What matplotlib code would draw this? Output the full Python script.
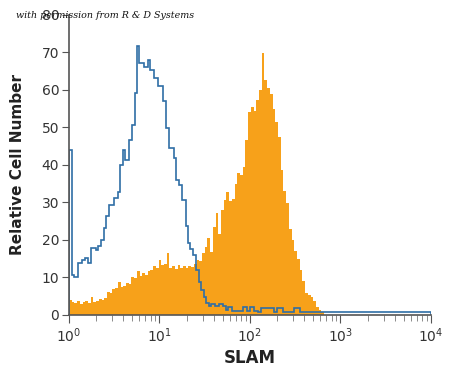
import numpy as np
import matplotlib
matplotlib.use('Agg')
import matplotlib.pyplot as plt

# isotype control (blue outline) - step edges in log10 units and heights
blue_edges_log = [0.0, 0.030, 0.059, 0.103, 0.140, 0.178, 0.206, 0.244, 0.299,
                  0.324, 0.354, 0.383, 0.409, 0.446, 0.494, 0.541, 0.568, 0.594,
                  0.622, 0.659, 0.696, 0.727, 0.752, 0.778, 0.830, 0.877, 0.899,
                  0.942, 0.983, 0.989, 1.044, 1.077, 1.110, 1.157, 1.182, 1.219,
                  1.246, 1.293, 1.320, 1.342, 1.367, 1.404, 1.441, 1.459, 1.489,
                  1.519, 1.547, 1.573, 1.610, 1.661, 1.705, 1.740, 1.757, 1.757,
                  1.801, 1.923, 1.965, 2.003, 2.039, 2.094, 2.124, 2.265, 2.302,
                  2.365, 2.489, 2.552, 2.585, 4.0]
blue_counts = [44, 10.7, 10.0, 13.9, 14.7, 15.1, 13.9, 17.8, 17.3,
               18.4, 20.0, 23.1, 26.4, 29.3, 31.1, 32.9, 40.0, 44.0,
               41.3, 46.7, 50.7, 59.1, 71.8, 67.1, 66.2, 68.0, 65.3,
               63.1, 62.2, 61.0, 57.0, 49.8, 44.4, 41.8, 36.0, 34.7,
               30.7, 23.6, 19.1, 17.5, 16.0, 12.0, 8.9, 6.7, 4.9,
               3.1, 2.4, 3.0, 2.4, 3.0, 2.4, 1.3, 2.0, 2.0,
               1.1, 2.0, 1.1, 2.0, 1.0, 0.8, 1.8, 0.8, 1.8,
               0.8, 1.8, 0.8, 0.8]

# SLAM stained (orange filled) - bins of 0.03 decades starting at 10^0
orange_counts = [4.0, 3.5, 3.2, 3.6, 3.0, 3.4, 3.8, 3.1, 4.9, 3.4,
                 3.8, 4.3, 3.9, 4.5, 6.2, 5.8, 6.8, 7.2, 8.9, 7.4,
                 7.8, 8.6, 8.3, 10.2, 9.9, 11.8, 10.4, 11.3, 10.6, 11.8,
                 12.1, 13.0, 12.4, 14.7, 13.2, 13.5, 16.6, 12.6, 13.1, 12.2,
                 13.3, 12.6, 13.0, 12.4, 13.0, 12.9, 13.5, 14.7, 14.3, 16.4,
                 18.2, 20.5, 16.8, 23.5, 27.1, 21.5, 28.0, 30.7, 32.9, 30.5,
                 31.0, 35.0, 37.8, 37.2, 39.5, 46.7, 54.0, 55.5, 54.5, 57.3,
                 60.0, 69.8, 62.7, 60.4, 59.0, 55.0, 51.5, 47.5, 38.7, 33.0,
                 29.8, 23.0, 20.0, 17.0, 15.0, 12.0, 9.0, 5.8, 5.2, 4.9,
                 3.8, 2.2, 1.3, 0.8]
orange_bin = 0.03

blue_edges = 10 ** np.array(blue_edges_log)
orange_edges = 10 ** (np.arange(len(orange_counts) + 1) * orange_bin)

fig = plt.figure(figsize=(4.5, 3.78), dpi=100)
ax = fig.add_axes([0.1533, 0.1667, 0.8044, 0.7937])

ax.stairs(orange_counts, orange_edges, fill=True, color='#f7a11a', lw=0)
ax.stairs(blue_counts, blue_edges, baseline=0, color='#2f6ea6', lw=1.2)

ax.set_xscale('log')
ax.set_xlim(1, 1e4)
ax.set_ylim(0, 80)
ax.set_yticks(range(0, 81, 10))

for s in ['top', 'right']:
    ax.spines[s].set_visible(False)
for s in ['left', 'bottom']:
    ax.spines[s].set_color('#555555')
    ax.spines[s].set_linewidth(1.2)

ax.tick_params(axis='both', colors='#555555', labelcolor='#333333', labelsize=10)
ax.tick_params(axis='y', length=5, pad=2)
ax.tick_params(axis='x', which='major', length=6, pad=2)
ax.tick_params(axis='x', which='minor', length=4, color='#777777')

ax.set_ylabel('Relative Cell Number', fontsize=11, fontweight='bold',
              color='#222222', labelpad=12)
ax.set_xlabel('SLAM', fontsize=12, fontweight='bold', color='#222222', labelpad=3)

fig.text(0.035, 0.952, 'with permission from R & D Systems', fontsize=6.8,
         family='DejaVu Serif', style='italic', color='#111111')

fig.savefig('out.png', dpi=100)
